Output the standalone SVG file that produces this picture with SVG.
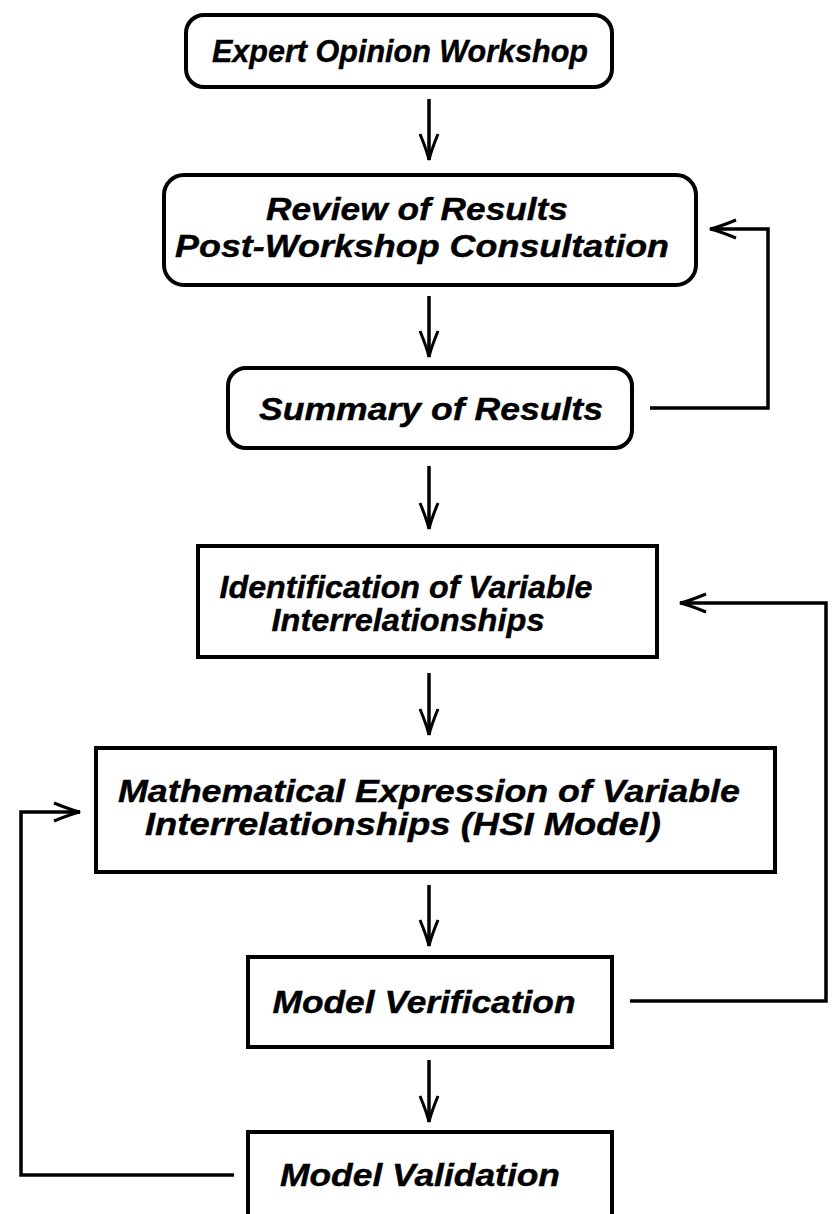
<svg xmlns="http://www.w3.org/2000/svg" width="838" height="1214" viewBox="0 0 838 1214">
<style>
.box{fill:#fff;stroke:#000;stroke-width:4}
.t{font-family:"Liberation Sans",Arial,sans-serif;font-weight:bold;font-style:italic;font-size:32px;fill:#000;stroke:#000;stroke-width:0.4;text-anchor:middle}
.c{fill:none;stroke:#000;stroke-width:3.5}
</style>
<defs>
<marker id="ah" markerUnits="userSpaceOnUse" viewBox="-30 -12 34 24" refX="0" refY="0" markerWidth="34" markerHeight="24" orient="auto" overflow="visible">
<path d="M-26,-9 Q-9,-2 0,0 Q-9,2 -26,9" fill="none" stroke="#000" stroke-width="3"/>
</marker>
</defs>
<rect width="838" height="1214" fill="#fff"/>
<g id="connectors">
<line class="c" x1="429" y1="99" x2="429" y2="160" marker-end="url(#ah)"/>
<line class="c" x1="429" y1="296" x2="429" y2="357" marker-end="url(#ah)"/>
<line class="c" x1="429" y1="466" x2="429" y2="529" marker-end="url(#ah)"/>
<line class="c" x1="429" y1="673" x2="429" y2="735" marker-end="url(#ah)"/>
<line class="c" x1="429" y1="885" x2="429" y2="946" marker-end="url(#ah)"/>
<line class="c" x1="429" y1="1060" x2="429" y2="1122" marker-end="url(#ah)"/>
<path class="c" d="M650,408 H768 V229 H710" marker-end="url(#ah)"/>
<path class="c" d="M630,1001 H826 V603 H680" marker-end="url(#ah)"/>
<path class="c" d="M234,1175 H21 V812 H80" marker-end="url(#ah)"/>
</g>
<g id="n1">
<rect class="box" x="186" y="15" width="426" height="72" rx="18"/>
<text class="t" x="400" y="62" textLength="376" lengthAdjust="spacingAndGlyphs">Expert Opinion Workshop</text>
</g>
<g id="n2">
<rect class="box" x="164" y="175" width="532" height="110" rx="20"/>
<text class="t" x="417" y="220" textLength="302" lengthAdjust="spacingAndGlyphs">Review of Results</text>
<text class="t" x="422" y="257" textLength="494" lengthAdjust="spacingAndGlyphs">Post-Workshop Consultation</text>
</g>
<g id="n3">
<rect class="box" x="228" y="368" width="404" height="80" rx="18"/>
<text class="t" x="431" y="420" textLength="344" lengthAdjust="spacingAndGlyphs">Summary of Results</text>
</g>
<g id="n4">
<rect class="box" x="198" y="546" width="459" height="111"/>
<text class="t" x="406" y="598" textLength="373" lengthAdjust="spacingAndGlyphs">Identification of Variable</text>
<text class="t" x="408" y="631" textLength="273" lengthAdjust="spacingAndGlyphs">Interrelationships</text>
</g>
<g id="n5">
<rect class="box" x="96" y="748" width="679" height="124"/>
<text class="t" x="429" y="802" textLength="622" lengthAdjust="spacingAndGlyphs">Mathematical Expression of Variable</text>
<text class="t" x="403" y="835" textLength="516" lengthAdjust="spacingAndGlyphs">Interrelationships (HSI Model)</text>
</g>
<g id="n6">
<rect class="box" x="248" y="957" width="364" height="90"/>
<text class="t" x="424" y="1013" textLength="303" lengthAdjust="spacingAndGlyphs">Model Verification</text>
</g>
<g id="n7">
<rect class="box" x="248" y="1132" width="364" height="100"/>
<text class="t" x="420" y="1186" textLength="280" lengthAdjust="spacingAndGlyphs">Model Validation</text>
</g>
</svg>
